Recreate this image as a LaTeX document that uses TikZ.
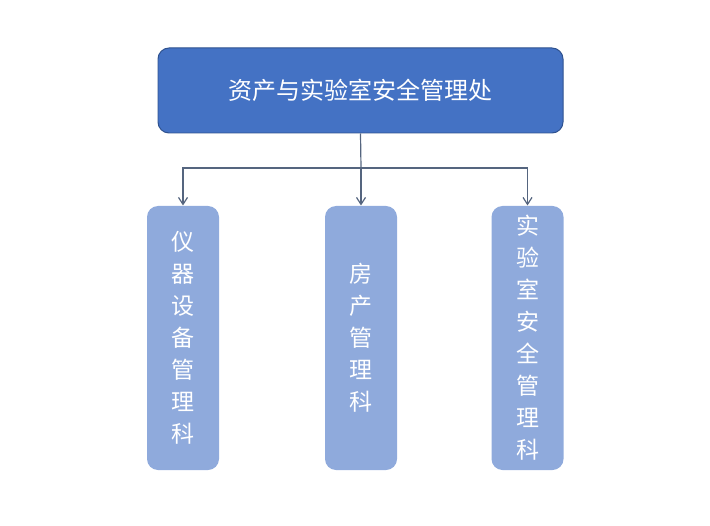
\documentclass[tikz,border=0pt]{standalone}
\usepackage{fontspec}
\setmainfont{Noto Sans CJK SC}
\usepackage{tikz}
\usetikzlibrary{arrows.meta}
\definecolor{headblue}{HTML}{4472C4}
\definecolor{headline}{HTML}{2F528F}
\definecolor{unitblue}{HTML}{8FAADC}
\definecolor{wire}{HTML}{55657F}

\begin{document}
\begin{tikzpicture}[x=1bp, y=-1bp, line width=1pt,
  head/.style={draw=headline, fill=headblue, rounded corners=11bp,
    minimum width=405bp, minimum height=85bp, text=white,
    font=\fontsize{24bp}{28bp}\selectfont},
  unit/.style={fill=unitblue, rounded corners=11bp, minimum width=72bp,
    minimum height=264bp, text=white, align=center,
    font=\fontsize{23bp}{32bp}\selectfont},
  wire/.style={draw=wire, line width=1.2pt},
  tip/.style={wire, -{Straight Barb[length=7bp, width=9bp]}}]
  \useasboundingbox (0,0) rectangle (710,526);
  % top: office
  \node[head] (office) at (360.5,90.5) {资产与实验室安全管理处};
  % bottom: three sections
  \node[unit] (equip) at (183,338) {仪\\器\\设\\备\\管\\理\\科};
  \node[unit] (house) at (361,338) {房\\产\\管\\理\\科};
  \node[unit] (lab) at (527.5,338) {实\\验\\室\\安\\全\\管\\理\\科};
  % connectors
  \coordinate (bus) at (361,168);
  \draw[wire] (office.south) -- (bus);
  \draw[tip] (bus) -| (equip.north);
  \draw[tip] (bus) -- (house.north);
  \draw[tip] (bus) -| (lab.north);
\end{tikzpicture}
\end{document}
